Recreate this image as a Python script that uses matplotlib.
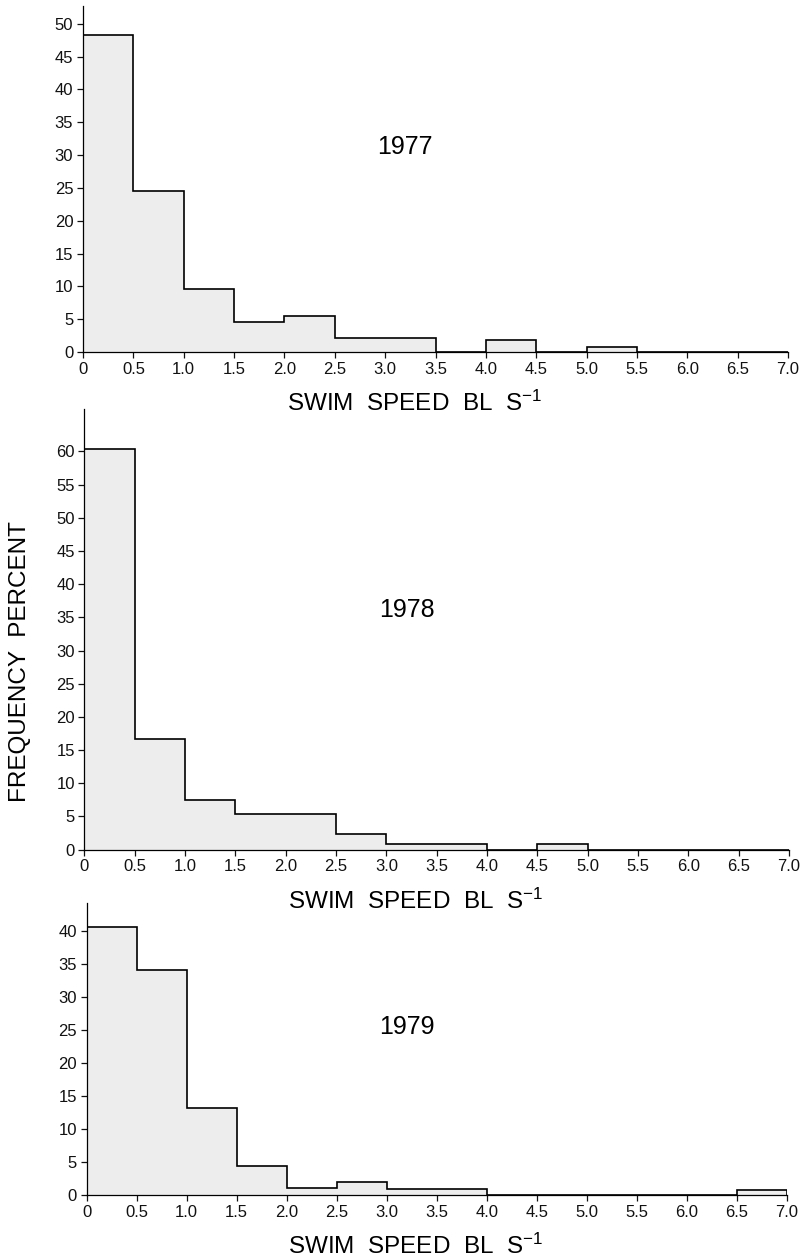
import numpy as np
import matplotlib
matplotlib.use('Agg')
import matplotlib.pyplot as plt

# font close to the Helvetica of the original print
plt.rcParams['font.family'] = 'Liberation Sans'
plt.rcParams['mathtext.default'] = 'regular'

# swim speed bins (body lengths per second), 0.5 wide
bin_edges = [0, 0.5, 1.0, 1.5, 2.0, 2.5, 3.0, 3.5, 4.0, 4.5, 5.0, 5.5, 6.0, 6.5, 7.0]
tick_labels = ['0', '0.5', '1.0', '1.5', '2.0', '2.5', '3.0', '3.5',
               '4.0', '4.5', '5.0', '5.5', '6.0', '6.5', '7.0']

# frequency percent per bin
freq_1977 = [48.3, 24.6, 9.6, 4.6, 5.5, 2.2, 2.2, 0, 1.8, 0, 0.8, 0, 0, 0]
freq_1978 = [60.3, 16.6, 7.5, 5.3, 5.3, 2.3, 0.8, 0.8, 0, 0.8, 0, 0, 0, 0]
freq_1979 = [40.5, 34.1, 13.2, 4.4, 1.1, 1.9, 0.9, 0.9, 0, 0, 0, 0, 0, 0.7]

years = ['1977', '1978', '1979']
freqs = [freq_1977, freq_1978, freq_1979]
ytop = [52.7, 66.4, 44.2]
ymax_tick = [50, 60, 40]
year_y = [31.2, 36.1, 25.5]

# axes rectangles in figure fractions
rects = [[0.1034, 0.7206, 0.8780, 0.2746],
         [0.1052, 0.3257, 0.8773, 0.3497],
         [0.1080, 0.0516, 0.8717, 0.2317]]

fig = plt.figure(figsize=(8.03, 12.6), dpi=100)

edges = np.array(bin_edges)
for i in range(3):
    ax = fig.add_axes(rects[i])
    ax.patch.set_visible(False)   # so the axes below don't hide the x label above
    vals = np.array(freqs[i])

    # light stippled-looking fill + black step outline
    ax.bar(edges[:-1], vals, width=np.diff(edges), align='edge',
           color='#ededed', linewidth=0)
    ax.stairs(vals, edges, baseline=0, color='black', linewidth=1.2)

    ax.set_xlim(0, 7)
    ax.set_ylim(0, ytop[i])
    ax.set_xticks(bin_edges)
    ax.set_xticklabels(tick_labels)
    ax.set_yticks(np.arange(0, ymax_tick[i] + 1, 5))

    for s in ['top', 'right']:
        ax.spines[s].set_visible(False)
    ax.spines['left'].set_linewidth(0.9)
    ax.spines['bottom'].set_linewidth(0.9)
    ax.tick_params(axis='both', direction='out', length=4.5, width=0.9,
                   labelsize=12, pad=2.5, colors='#111111')

    ax.text(3.2, year_y[i], years[i], fontsize=18, ha='center', va='center')
    ax.annotate('SWIM  SPEED  BL  S$^{-1}$', xy=(0.47, 0), xycoords='axes fraction',
                xytext=(0, -37), textcoords='offset points',
                ha='center', va='center', fontsize=17.5)

fig.text(0.025, 1 - 662 / 1260, 'FREQUENCY  PERCENT', rotation=90,
         ha='center', va='center', fontsize=17.5)

fig.savefig('out.png', dpi=100)
